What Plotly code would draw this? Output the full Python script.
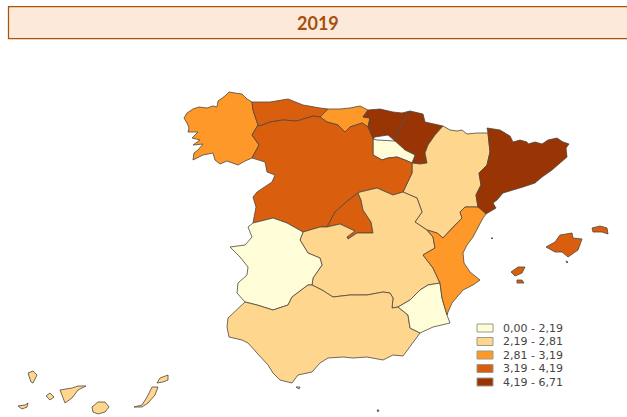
import plotly.graph_objects as go

TITLE = "2019"
CLASS_LABELS = ["0,00 - 2,19", "2,19 - 2,81", "2,81 - 3,19", "3,19 - 4,19", "4,19 - 6,71"]
CLASS_COLORS = ["#fffcd8", "#fed68e", "#fe9929", "#d95f0e", "#993404"]

# Region outlines in map units; islands are separate parts
GALICIA = [[(184,118),(187,113),(193,109),(199,107),(207,108),(213,106),(217,107),(218,101),(225,96),(229,92),(235,93),(242,94),(247,99),(252,102),(253,110),(258,125),(252,135),(259,145),(252,158),(245,161),(238,165),(227,161),(220,164),(215,160),(213,153),(203,155),(193,160),(194,153),(198,150),(203,144),(193,145),(200,140),(192,138),(198,132),(188,132),(189,128),(187,123)]]
ASTURIAS = [[(252,102),(270,102),(288,99),(303,105),(320,108),(328,109),(320,117),(313,116),(297,121),(283,120),(270,122),(260,126),(258,125),(253,110)]]
CANTABRIA = [[(328,109),(340,109),(350,108),(360,106),(368,110),(363,117),(370,118),(368,127),(362,123),(350,127),(345,132),(338,125),(327,122),(320,117)]]
BASQUE = [[(368,110),(380,109),(393,112),(402,113),(410,111),(403,123),(397,132),(395,141),(388,135),(375,137),(373,139),(368,127),(370,118),(363,117)]]
NAVARRA = [[(410,111),(423,114),(425,122),(443,126),(435,135),(428,145),(425,153),(427,163),(420,164),(412,163),(415,155),(405,150),(395,141),(397,132),(403,123)]]
LA_RIOJA = [[(373,139),(377,140),(395,141),(405,150),(415,155),(412,163),(405,160),(397,157),(388,158),(382,160),(373,155),(373,145)]]
ARAGON = [[(443,126),(450,130),(457,131),(462,130),(467,134),(477,133),(488,133),(490,152),(487,165),(479,173),(481,185),(476,195),(478,207),(465,207),(460,212),(462,218),(452,228),(443,238),(437,233),(427,230),(415,222),(422,212),(417,198),(403,192),(412,173),(412,163),(420,164),(427,163),(425,153),(428,145),(435,135)]]
CATALONIA = [[(487,128),(493,129),(500,130),(510,136),(513,142),(520,140),(527,142),(528,144),(535,142),(542,144),(548,140),(557,138),(563,142),(569,144),(566,148),(567,157),(560,163),(552,170),(542,177),(535,183),(523,187),(512,190),(503,193),(497,200),(493,203),(496,208),(488,213),(486,214),(478,207),(476,195),(481,185),(479,173),(487,165),(490,152),(488,133)]]
CASTILLA_LEON = [[(258,125),(260,126),(270,122),(283,120),(297,121),(313,116),(320,117),(327,122),(338,125),(345,132),(350,127),(362,123),(368,127),(373,139),(373,155),(382,160),(388,158),(397,157),(405,160),(412,163),(412,173),(403,192),(393,195),(377,188),(360,192),(358,193),(345,203),(335,212),(327,227),(320,227),(303,232),(287,223),(273,218),(253,223),(256,207),(253,197),(257,192),(265,187),(272,182),(275,175),(267,172),(265,162),(252,158),(259,145),(252,135)]]
MADRID = [[(327,227),(335,212),(345,203),(358,193),(361,200),(363,210),(371,222),(373,233),(357,233),(348,239),(347,237),(355,231),(340,224)]]
CASTILLA_MANCHA = [[(303,232),(320,227),(327,227),(340,224),(355,231),(347,237),(348,239),(357,233),(373,233),(371,222),(363,210),(361,200),(358,193),(360,192),(377,188),(393,195),(403,192),(417,198),(422,212),(415,222),(427,230),(433,237),(435,248),(423,255),(433,268),(440,283),(428,285),(420,290),(410,300),(398,307),(392,308),(393,298),(390,293),(383,292),(367,295),(350,295),(333,297),(322,290),(312,285),(313,278),(322,265),(320,258),(308,253),(300,240)]]
EXTREMADURA = [[(253,223),(273,218),(287,223),(303,232),(300,240),(308,253),(320,258),(322,265),(313,278),(312,285),(308,285),(292,297),(288,305),(273,310),(257,305),(245,302),(237,293),(238,283),(247,275),(248,267),(240,257),(230,247),(245,245),(252,237),(248,227)]]
ANDALUSIA = [[(245,302),(257,305),(273,310),(288,305),(292,297),(308,285),(312,285),(322,290),(333,297),(350,295),(367,295),(383,292),(390,293),(393,298),(392,308),(398,307),(408,315),(410,328),(420,333),(410,347),(403,356),(393,355),(383,360),(367,357),(353,358),(343,357),(328,358),(320,363),(312,372),(298,375),(292,383),(280,380),(273,373),(268,365),(263,360),(257,353),(248,343),(242,340),(229,337),(227,327),(228,318)]]
MURCIA = [[(398,307),(410,300),(420,290),(428,285),(440,283),(442,298),(447,315),(450,323),(433,327),(420,333),(410,328),(408,315)]]
VALENCIA = [[(465,207),(478,207),(486,214),(483,218),(473,237),(467,245),(463,253),(464,263),(470,272),(480,280),(473,285),(463,290),(457,297),(452,303),(448,312),(447,315),(442,298),(440,283),(433,268),(423,255),(435,248),(433,237),(427,230),(437,233),(443,238),(452,228),(462,218),(460,212)]]
BALEARES = [[(546,247),(555,242),(560,235),(572,233),(573,238),(582,239),(578,250),(568,257),(562,252),(555,252)],
            [(592,228),(600,226),(607,228),(608,234),(602,232),(593,232)],
            [(511,272),(518,267),(525,267),(522,273),(515,276)],
            [(517,280),(522,280),(524,283),(517,283)],
            [(566,261),(568,262),(567,263)]]
CANARIAS = [[(28,373),(33,371),(37,375),(33,383),(31,382)],
            [(18,406),(25,405),(28,403),(27,407),(22,409)],
            [(46,396),(50,393),(54,397),(50,400)],
            [(60,390),(72,388),(78,386),(86,386),(78,390),(72,398),(65,403),(63,398)],
            [(92,407),(98,402),(105,402),(109,407),(105,412),(98,414),(93,412)],
            [(134,407),(142,405),(147,397),(152,387),(158,387),(155,395),(148,403),(142,407)],
            [(157,383),(160,378),(168,375),(168,380),(163,382)]]
CEUTA = [[(296,387),(300,387),(299,389)]]
MELILLA = [[(377,410),(379,410),(378,412)]]
COLUMBRETES = [[(491,238),(493,238),(492,239)]]

# Region name, outline, class index (0-4)
REGIONS = [
    ("Galicia", GALICIA, 2), ("Asturias", ASTURIAS, 3), ("Cantabria", CANTABRIA, 2),
    ("País Vasco", BASQUE, 4), ("Navarra", NAVARRA, 4), ("La Rioja", LA_RIOJA, 0),
    ("Aragón", ARAGON, 1), ("Cataluña", CATALONIA, 4), ("Castilla y León", CASTILLA_LEON, 3),
    ("Madrid", MADRID, 3), ("Castilla-La Mancha", CASTILLA_MANCHA, 1), ("Extremadura", EXTREMADURA, 0),
    ("Andalucía", ANDALUSIA, 1), ("Murcia", MURCIA, 0), ("C. Valenciana", VALENCIA, 2),
    ("Baleares", BALEARES, 3), ("Canarias", CANARIAS, 1),
    ("Ceuta", CEUTA, 1), ("Melilla", MELILLA, 1), ("Columbretes", COLUMBRETES, 2),
]

fig = go.Figure()
for name, parts, cls in REGIONS:
    xs, ys = [], []
    for part in parts:
        xs += [p[0] for p in part] + [part[0][0], None]
        ys += [p[1] for p in part] + [part[0][1], None]
    fig.add_trace(go.Scatter(x=xs, y=ys, mode="lines", fill="toself", name=name,
                             fillcolor=CLASS_COLORS[cls], showlegend=False,
                             line=dict(color="#4f463c", width=0.8), hoveron="fills",
                             text=f"{name}: {CLASS_LABELS[cls]}", hoverinfo="text"))

shapes = [dict(type="rect", x0=8.5, y0=6.5, x1=650, y1=38.5, fillcolor="#fde9d9",
               line=dict(color="#a9530f", width=1.25), layer="below")]
annotations = [dict(x=318, y=23, text=f"<b>{TITLE}</b>", showarrow=False,
                    font=dict(family="Lato", size=18, color="#a4500f"))]
for i, (label, color) in enumerate(zip(CLASS_LABELS, CLASS_COLORS)):
    yc = 328 + i * 13.5
    shapes.append(dict(type="rect", x0=477, x1=493, y0=yc - 4, y1=yc + 4, fillcolor=color,
                       line=dict(color="#9a9a8a", width=1)))
    annotations.append(dict(x=501, y=yc, text=label, showarrow=False, xanchor="left",
                            font=dict(family="DejaVu Sans", size=11, color="#444444")))

fig.update_layout(width=627, height=417, autosize=False, showlegend=False,
                  margin=dict(l=0, r=0, t=0, b=0), paper_bgcolor="white", plot_bgcolor="white",
                  xaxis=dict(range=[0, 627], visible=False, fixedrange=True),
                  yaxis=dict(range=[417, 0], visible=False, fixedrange=True),
                  shapes=shapes, annotations=annotations)
fig.write_html("out.html", config={"displayModeBar": False},
               post_script="document.body.style.margin='0';")
